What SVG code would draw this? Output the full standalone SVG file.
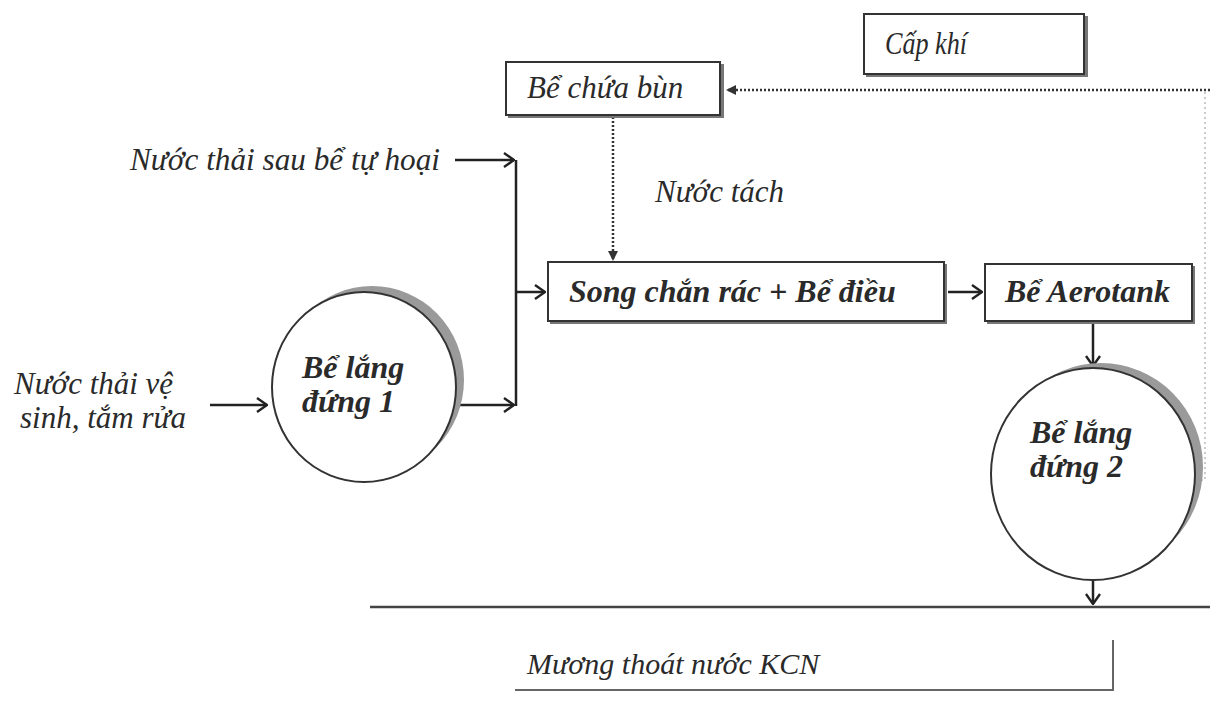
<svg xmlns="http://www.w3.org/2000/svg" width="1210" height="702" viewBox="0 0 1210 702">
<style>
.t{font-family:"Liberation Serif","Times New Roman",serif;font-style:italic;fill:#2a2a2a;font-size:31px}
.b{font-weight:bold;font-size:32px}
.box{fill:#fff;stroke:#333;stroke-width:2}
.sh{fill:#777}
.ln{fill:none;stroke:#222;stroke-width:2.5}
.dot{fill:none;stroke:#333;stroke-width:2.5;stroke-dasharray:2 2}
.fd{fill:none;stroke:#bbb;stroke-width:1.5;stroke-dasharray:2 3}
</style>
<defs>
<marker id="a" viewBox="0 0 12 16" refX="11" refY="8" markerWidth="12" markerHeight="16" markerUnits="userSpaceOnUse" orient="auto">
<path d="M1,1 L11,8 L1,15" fill="none" stroke="#222" stroke-width="2.4"/>
</marker>
<marker id="d" viewBox="0 0 12 12" refX="11" refY="6" markerWidth="12" markerHeight="12" markerUnits="userSpaceOnUse" orient="auto">
<path d="M1,1 L11,6 L1,11 Z" fill="#333"/>
</marker>
</defs>
<rect width="1210" height="702" fill="#fff"/>

<g id="connectors">
<path class="dot" d="M1210,90 L726,90" marker-end="url(#d)"/>
<path class="fd" d="M1205,92 L1205,480 L1195,480"/>
<path class="dot" d="M613,117 L613,261" marker-end="url(#d)"/>
<path class="ln" d="M516,160 L516,406"/>
<path class="ln" d="M455,160 L514,160" marker-end="url(#a)"/>
<path class="ln" d="M516,292 L545,292" marker-end="url(#a)"/>
<path class="ln" d="M210,405 L267,405" marker-end="url(#a)"/>
<path class="ln" d="M457,405 L514,405" marker-end="url(#a)"/>
<path class="ln" d="M948,292 L982,292" marker-end="url(#a)"/>
<path class="ln" d="M1093,322 L1093,366" marker-end="url(#a)"/>
<path class="ln" d="M1093,580 L1093,604" marker-end="url(#a)"/>
<path d="M370,607 L1210,607" stroke="#444" stroke-width="2.5"/>
</g>

<g id="cap-khi">
<rect x="866" y="16" width="222" height="61" class="sh"/>
<rect x="864" y="14" width="220" height="60" class="box"/>
<text x="885" y="54" class="t" textLength="82" lengthAdjust="spacingAndGlyphs">Cấp khí</text>
</g>

<g id="be-chua-bun">
<rect x="508" y="64" width="216" height="54" class="sh"/>
<rect x="506" y="62" width="214" height="53" class="box"/>
<text x="527" y="98" class="t">Bể chứa bùn</text>
</g>

<g id="nuoc-tach">
<text x="655" y="202" class="t">Nước tách</text>
</g>

<g id="nuoc-thai-sau-be-tu-hoai">
<text x="130" y="170" class="t" textLength="310" lengthAdjust="spacingAndGlyphs">Nước thải sau bể tự hoại</text>
</g>

<g id="nuoc-thai-ve-sinh">
<text x="14" y="394" class="t">Nước thải vệ</text>
<text x="20" y="428" class="t">sinh, tắm rửa</text>
</g>

<g id="be-lang-dung-1">
<ellipse cx="372" cy="380" rx="92" ry="94" fill="#9a9a9a"/>
<ellipse cx="364" cy="387" rx="92" ry="95" fill="#fff" stroke="#333" stroke-width="2"/>
<text x="302" y="378" class="t b">Bể lắng</text>
<text x="302" y="412" class="t b">đứng 1</text>
</g>

<g id="song-chan-rac">
<rect x="550" y="264" width="397" height="60" class="sh"/>
<rect x="548" y="262" width="396" height="59" class="box"/>
<text x="569" y="302" class="t b">Song chắn rác + Bể điều</text>
</g>

<g id="be-aerotank">
<rect x="987" y="266" width="208" height="58" class="sh"/>
<rect x="985" y="264" width="207" height="57" class="box"/>
<text x="1005" y="302" class="t b">Bể Aerotank</text>
</g>

<g id="be-lang-dung-2">
<ellipse cx="1101" cy="467" rx="102" ry="104" fill="#9a9a9a"/>
<ellipse cx="1093" cy="474" rx="102" ry="106" fill="#fff" stroke="#333" stroke-width="2"/>
<text x="1030" y="443" class="t b">Bể lắng</text>
<text x="1030" y="477" class="t b">đứng 2</text>
</g>

<g id="muong-thoat-nuoc">
<path d="M1113,640 L1113,690 L515,690" fill="none" stroke="#666" stroke-width="2"/>
<text x="527" y="674" class="t" style="font-size:30px">Mương thoát nước KCN</text>
</g>
</svg>
